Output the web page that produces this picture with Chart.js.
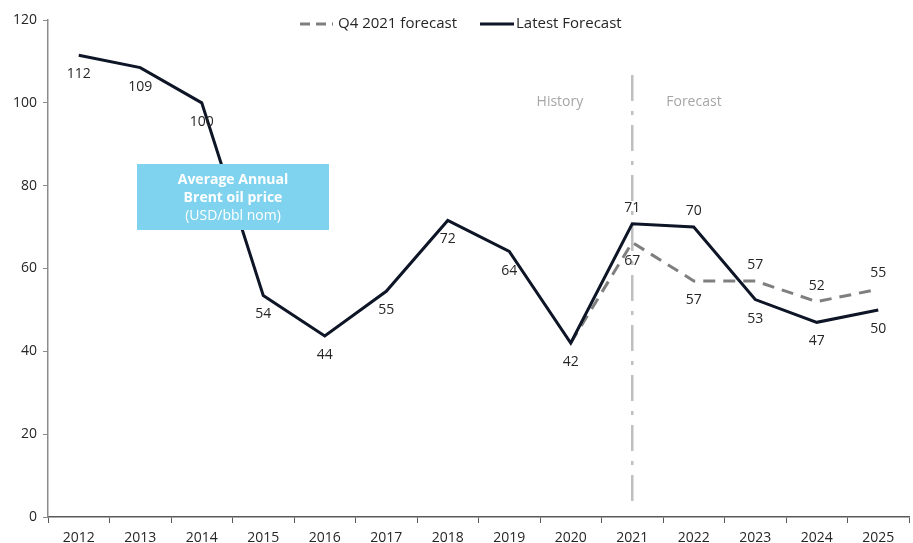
<!DOCTYPE html>
<html lang="en">
<head>
  <meta charset="UTF-8" />
  <title>Brent oil price</title>
  <script src="https://cdn.jsdelivr.net/npm/chart.js"></script>
  <style>
    html, body { margin: 0; padding: 0; background: #fff; overflow: hidden; }
    #oilChart { display: block; }
  </style>
</head>
<body>
  <canvas id="oilChart" width="913" height="543"></canvas>

  <script>
    // data
    const years = ['2012', '2013', '2014', '2015', '2016', '2017', '2018', '2019', '2020', '2021', '2022', '2023', '2024', '2025'];
    const latestForecast = [111.5, 108.5, 100, 53.5, 43.7, 54.5, 71.6, 64.1, 42, 70.8, 70, 52.5, 47, 50];
    const latestLabels = ['112', '109', '100', '54', '44', '55', '72', '64', '42', '71', '70', '53', '47', '50'];
    const latestAbove = [false, false, false, false, false, false, false, false, false, true, true, false, false, false];
    const q4Forecast = [null, null, null, null, null, null, null, null, 42, 66.3, 57, 57, 52, 55];
    const q4Labels = [null, null, null, null, null, null, null, null, null, '67', '57', '57', '52', '55'];
    const q4Above = [false, false, false, false, false, false, false, false, false, false, false, true, true, true];
    const yTicks = [0, 20, 40, 60, 80, 100, 120];
    const splitIndex = 9; // 2021: history / forecast

    const FONT = '"Open Sans", Lato, sans-serif';

    const overlay = {
      id: 'overlay',
      beforeDatasetsDraw(chart) {
        const ctx = chart.ctx;
        const x = chart.scales.x.getPixelForValue(splitIndex);
        const area = chart.chartArea;
        ctx.save();
        ctx.strokeStyle = '#bfbfbf';
        ctx.lineWidth = 2.5;
        ctx.setLineDash([26, 10, 4, 10]);
        ctx.beginPath();
        ctx.moveTo(x, area.top + 55);
        ctx.lineTo(x, area.bottom - 14);
        ctx.stroke();
        ctx.setLineDash([]);

        ctx.fillStyle = '#a6a6a6';
        ctx.font = '14px ' + FONT;
        ctx.textBaseline = 'middle';
        ctx.textAlign = 'right';
        ctx.fillText('History', x - 49, area.top + 82);
        ctx.textAlign = 'left';
        ctx.fillText('Forecast', x + 34, area.top + 82);
        ctx.restore();
      },
      afterDatasetsDraw(chart) {
        const ctx = chart.ctx;
        ctx.save();
        ctx.textBaseline = 'middle';

        // info box sits on top of the line
        ctx.fillStyle = '#80d3ee';
        ctx.fillRect(137, 164, 192, 66);
        ctx.fillStyle = '#ffffff';
        ctx.textAlign = 'center';
        ctx.font = 'bold 14px ' + FONT;
        ctx.fillText('Average Annual', 233, 180);
        ctx.fillText('Brent oil price', 233, 198);
        ctx.font = '14px ' + FONT;
        ctx.fillText('(USD/bbl nom)', 233, 216);

        // value labels
        ctx.font = '14px ' + FONT;
        ctx.fillStyle = '#262626';
        const sets = [[0, latestLabels, latestAbove], [1, q4Labels, q4Above]];
        sets.forEach(([di, labels, above]) => {
          const meta = chart.getDatasetMeta(di);
          meta.data.forEach((pt, i) => {
            if (!labels[i]) return;
            const dy = above[i] ? -16 : 19;
            ctx.fillText(labels[i], pt.x, pt.y + dy);
          });
        });

        // legend
        ctx.lineWidth = 3;
        ctx.strokeStyle = '#7f7f7f';
        ctx.setLineDash([10, 6]);
        ctx.beginPath();
        ctx.moveTo(300, 24);
        ctx.lineTo(333, 24);
        ctx.stroke();
        ctx.setLineDash([]);
        ctx.strokeStyle = '#0d1526';
        ctx.beginPath();
        ctx.moveTo(480, 24);
        ctx.lineTo(514, 24);
        ctx.stroke();
        ctx.fillStyle = '#262626';
        ctx.textAlign = 'left';
        ctx.font = '15px ' + FONT;
        ctx.fillText('Q4 2021 forecast', 338, 24);
        ctx.fillText('Latest Forecast', 516, 24);
        ctx.restore();
      }
    };

    new Chart(document.getElementById('oilChart'), {
      type: 'line',
      data: {
        labels: years,
        datasets: [
          {
            label: 'Latest Forecast',
            data: latestForecast,
            borderColor: '#0d1526',
            borderWidth: 3,
            pointRadius: 0,
            tension: 0,
            order: 1
          },
          {
            label: 'Q4 2021 forecast',
            data: q4Forecast,
            borderColor: '#7f7f7f',
            borderWidth: 3,
            borderDash: [12, 8],
            pointRadius: 0,
            tension: 0,
            order: 2
          }
        ]
      },
      options: {
        responsive: false,
        animation: false,
        layout: { padding: { left: 0, right: 4, top: 20, bottom: 0 } },
        plugins: { legend: { display: false }, tooltip: { enabled: false } },
        scales: {
          x: {
            offset: true,
            grid: { offset: true, drawOnChartArea: false, drawTicks: true, tickLength: 6, color: '#595959' },
            border: { color: '#595959', width: 1.5 },
            ticks: { color: '#262626', font: { size: 14, family: FONT }, padding: 7, maxRotation: 0, autoSkip: false },
            afterFit(scale) { scale.height = 26; }
          },
          y: {
            min: 0,
            max: 120,
            afterBuildTicks(scale) { scale.ticks = yTicks.map(v => ({ value: v })); },
            grid: { drawOnChartArea: false, tickLength: 5, color: '#8c8c8c' },
            border: { color: '#8c8c8c', width: 1.5 },
            ticks: { color: '#262626', font: { size: 14, family: FONT }, padding: 6 },
            afterFit(scale) { scale.width = 48; }
          }
        }
      },
      plugins: [overlay]
    });
  </script>
</body>
</html>
